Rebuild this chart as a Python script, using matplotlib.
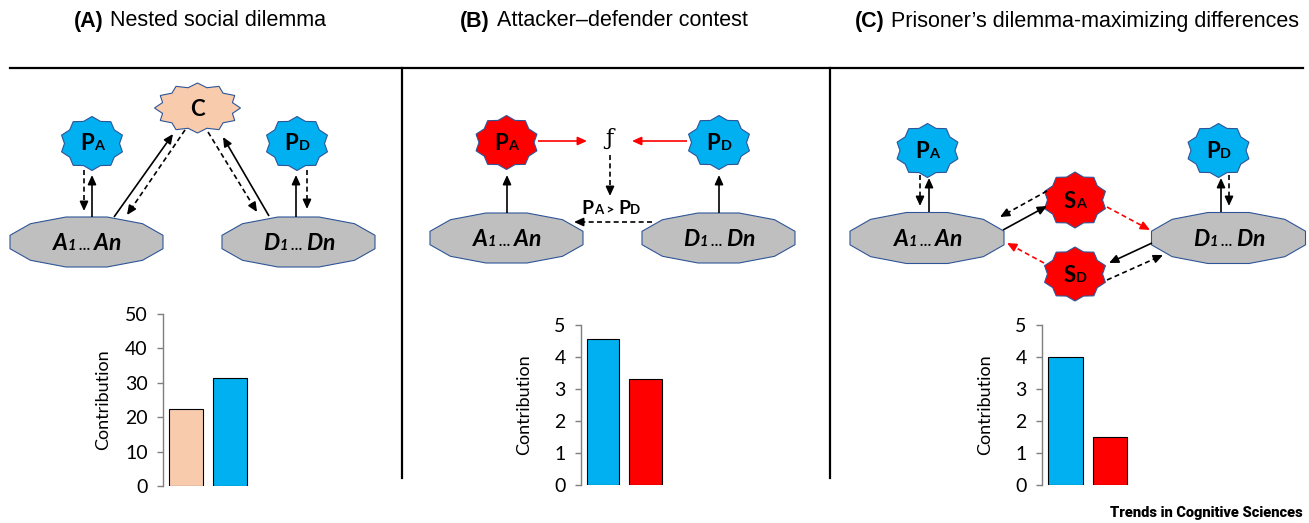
import numpy as np
import matplotlib
matplotlib.use("Agg")
import matplotlib.pyplot as plt
from matplotlib.patches import Polygon
from matplotlib.offsetbox import TextArea, HPacker, AnnotationBbox

# bar chart data
contrib_a = [22.5, 31.5]
contrib_b = [4.55, 3.3]
contrib_c = [4.0, 1.5]
ticks_a = [0, 10, 20, 30, 40, 50]
ticks_bc = [0, 1, 2, 3, 4, 5]

panel_letters = ["(A)", "(B)", "(C)"]
panel_titles = ["Nested social dilemma", "Attacker\u2013defender contest",
                "Prisoner\u2019s dilemma-maximizing differences"]

BLUE = "#00B0F0"
RED = "#FF0000"
PEACH = "#F8CBAD"
GREY = "#BFBFBF"
EDGE = "#2F5597"
NODE_FONT = "Lato"

W, H = 1309, 523
fig = plt.figure(figsize=(W / 100, H / 100), dpi=100)
ax = fig.add_axes([0, 0, 1, 1])
ax.set_xlim(0, W)
ax.set_ylim(H, 0)
ax.axis("off")


def star(cx, cy, rx, ry, n, color, inner=0.86):
    k = np.arange(2 * n)
    ang = np.pi / 2 + k * np.pi / n
    r = np.where(k % 2 == 0, 1.0, inner)
    pts = np.c_[cx + rx * r * np.cos(ang), cy - ry * r * np.sin(ang)]
    ax.add_patch(Polygon(pts, closed=True, fc=color, ec=EDGE, lw=0.8, zorder=2))


def pod(cx, cy, rx, ry):
    ang = np.deg2rad(15 + 30 * np.arange(12))
    c = np.cos(np.deg2rad(15))
    pts = np.c_[cx + rx * np.cos(ang) / c, cy - ry * np.sin(ang) / c]
    ax.add_patch(Polygon(pts, closed=True, fc=GREY, ec=EDGE, lw=0.8, zorder=2))


def label(x, y, parts, family=NODE_FONT):
    boxes = []
    for txt, size, style in parts:
        boxes.append(TextArea(txt, textprops=dict(fontsize=size, fontweight="bold",
                                                  fontstyle=style, family=family)))
    pack = HPacker(children=boxes, align="baseline", pad=0, sep=0)
    ab = AnnotationBbox(pack, (x, y), frameon=False, box_alignment=(0.5, 0.5), pad=0, zorder=5)
    ax.add_artist(ab)


def p_label(x, y, big, small, size=16):
    label(x, y, [(big, size, "normal"), (small, size * 0.65, "normal")])


def group_label(x, y, letter):
    label(x, y, [(letter, 16.5, "italic"), ("1", 10.5, "italic"), (" \u2026 ", 10.5, "italic"),
                 (letter, 16.5, "italic"), ("n", 16.5, "italic")])


def arrow(p0, p1, color="black", dashed=False, lw=1.2):
    p0 = np.asarray(p0, float)
    p1 = np.asarray(p1, float)
    d = (p1 - p0) / np.hypot(*(p1 - p0))
    head = 7.0
    end = p1 - d * head * 0.9
    ax.plot([p0[0], end[0]], [p0[1], end[1]], color=color, lw=lw,
            ls=(0, (3, 2)) if dashed else "-", solid_capstyle="butt", zorder=3)
    ax.annotate("", xy=p1, xytext=p1 - d * head,
                arrowprops=dict(arrowstyle="-|>,head_length=0.55,head_width=0.25",
                                color=color, lw=lw, shrinkA=0, shrinkB=0),
                zorder=4)


# frame lines
ax.plot([10, 1303], [68, 68], color="black", lw=1.6)
for xv in (402, 830):
    ax.plot([xv, xv], [68, 478], color="black", lw=1.6)

# titles
for cx, letter, title in zip((200, 604, 1077), panel_letters, panel_titles):
    boxes = [TextArea(letter, textprops=dict(fontsize=15.5, fontweight="bold", family="Liberation Sans")),
             TextArea(title, textprops=dict(fontsize=15.5, family="Liberation Sans"))]
    pack = HPacker(children=boxes, align="baseline", pad=0, sep=5)
    ax.add_artist(AnnotationBbox(pack, (cx, 21), frameon=False, box_alignment=(0.5, 0.5), pad=0))

# ---- panel A ----
star(197.5, 108, 43, 25, 12, PEACH, inner=0.84)
label(197.5, 109, [("C", 16, "normal")])
star(92, 143.5, 32, 27, 10, BLUE)
p_label(92, 144, "P", "A")
star(297, 143.5, 32, 27, 10, BLUE)
p_label(297, 144, "P", "D")
pod(86.5, 242, 76.5, 25)
group_label(87, 243, "A")
pod(298.5, 242, 76.5, 25)
group_label(299, 243, "D")
arrow((84, 170), (84, 211), dashed=True)
arrow((92, 217), (92, 175))
arrow((114, 217), (173, 134))
arrow((185, 130), (127, 215), dashed=True)
arrow((208, 132), (257, 212), dashed=True)
arrow((269, 216), (223, 137))
arrow((296, 217), (296, 175))
arrow((307, 170), (307, 209), dashed=True)

# ---- panel B ----
star(506.5, 142.5, 32, 27, 10, RED)
p_label(506.5, 143, "P", "A")
star(719, 142.5, 32, 27, 10, BLUE)
p_label(719, 143, "P", "D")
ax.text(609, 139, "\u0192", fontsize=16, family="DejaVu Serif", ha="center", va="center")
arrow((538, 141), (587, 141), color=RED)
arrow((687, 141), (632, 141), color=RED)
arrow((610, 155), (610, 196), dashed=True)
label(611, 208, [("P", 14, "normal"), ("A", 9.5, "normal"), (" > ", 10, "normal"),
                 ("P", 14, "normal"), ("D", 9.5, "normal")])
arrow((652, 222), (574, 222), dashed=True)
pod(506.5, 238, 76.5, 25)
group_label(507, 239, "A")
pod(718.5, 238, 76.5, 25)
group_label(719, 239, "D")
arrow((507, 213), (507, 175))
arrow((719, 213), (719, 175))

# ---- panel C ----
star(927.5, 150.5, 32, 27, 10, BLUE)
p_label(927.5, 151, "P", "A")
star(1218.5, 150.5, 32, 27, 10, BLUE)
p_label(1218.5, 151, "P", "D")
star(1075, 200, 32, 28, 10, RED)
p_label(1075, 201, "S", "A")
star(1075, 274, 32, 27, 10, RED)
p_label(1075, 275, "S", "D")
pod(927, 238, 77, 25.5)
group_label(928, 239, "A")
pod(1228.5, 238, 77, 25.5)
group_label(1229, 239, "D")
arrow((920, 175), (920, 206), dashed=True)
arrow((929, 212), (929, 178))
arrow((1221, 212), (1221, 178))
arrow((1229, 175), (1229, 206), dashed=True)
arrow((1003, 230), (1047, 206))
arrow((1047, 191), (1000, 217), dashed=True)
arrow((1107, 207), (1150, 230), color=RED, dashed=True)
arrow((1152, 243), (1109, 263))
arrow((1107, 280), (1163, 255), dashed=True)
arrow((1044, 263), (1007, 243), color=RED, dashed=True)


# ---- bar charts ----
def bar_panel(left, bottom, top, width, values, colors, ticks, label_x):
    bax = fig.add_axes([left / W, (H - bottom) / H, width / W, (bottom - top) / H])
    bax.bar(range(len(values)), values, width=0.77, color=colors, edgecolor="black", lw=0.8)
    bax.set_xlim(-0.52, 1.6)
    bax.set_ylim(ticks[0], ticks[-1])
    bax.set_yticks(ticks)
    bax.set_xticks([])
    for s in ("top", "right", "bottom"):
        bax.spines[s].set_visible(False)
    bax.spines["left"].set_color("#7F7F7F")
    bax.spines["left"].set_linewidth(1.0)
    bax.tick_params(axis="y", length=4, width=1, color="#7F7F7F", pad=7, labelsize=14)
    for t in bax.get_yticklabels():
        t.set_family(NODE_FONT)
    bax.set_ylabel("Contribution", fontsize=13, family=NODE_FONT)
    bax.yaxis.set_label_coords((label_x - left) / width, 0.5)
    bax.patch.set_alpha(0)
    return bax


bar_panel(163, 486, 314, 94, contrib_a, [PEACH, BLUE], ticks_a, 111)
bar_panel(581, 485, 325, 90, contrib_b, [BLUE, RED], ticks_bc, 532)
bar_panel(1042, 485, 325, 95, contrib_c, [BLUE, RED], ticks_bc, 993)

fig.text(1303 / W, 1 - 513 / H, "Trends in Cognitive Sciences", ha="right", va="center",
         fontsize=10.5, fontweight="black", family="Roboto")

fig.savefig("out.png", dpi=100)
